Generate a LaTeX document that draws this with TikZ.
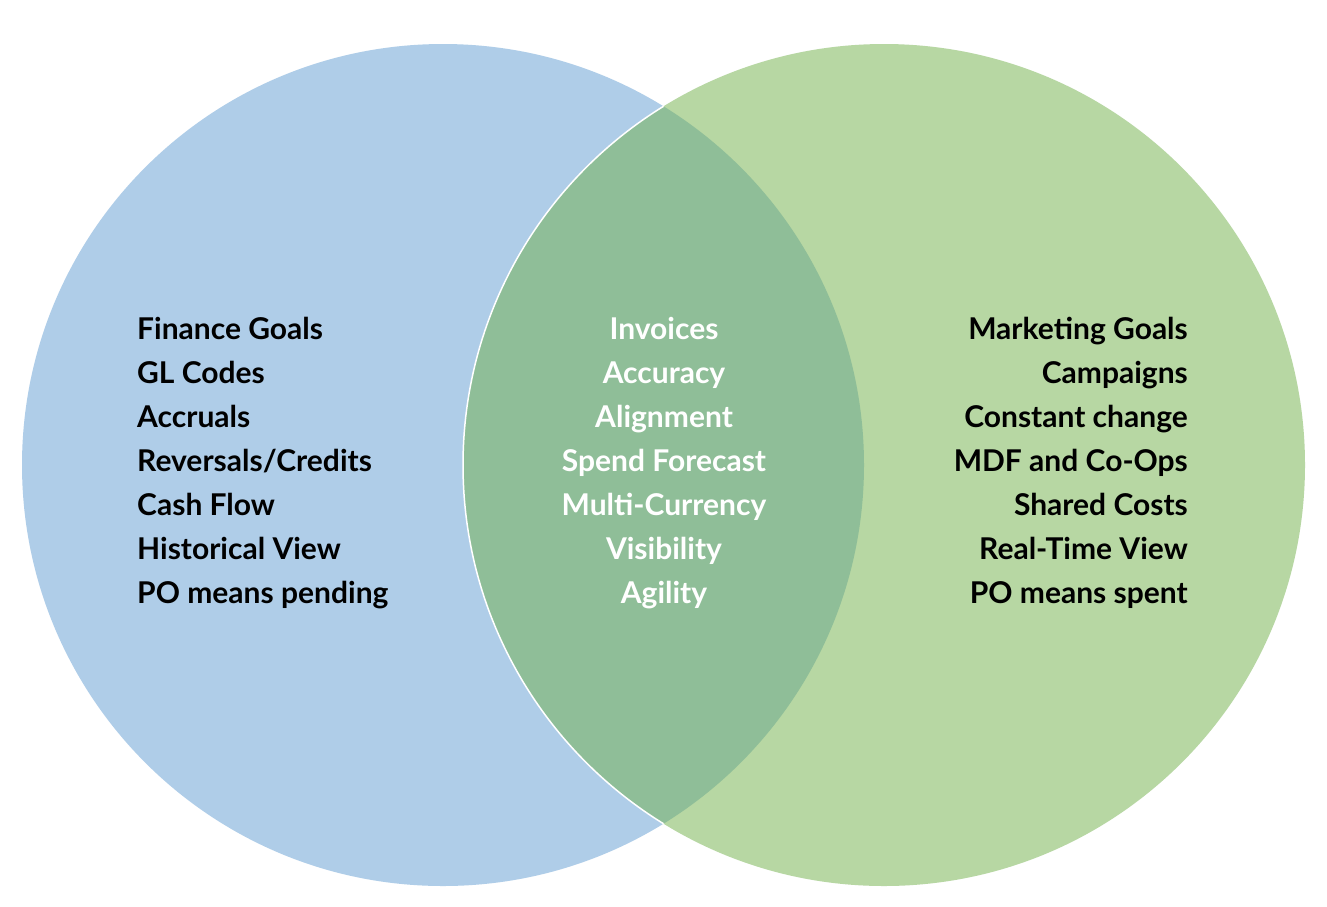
\documentclass[tikz,border=0pt]{standalone}
\usepackage{fontspec}
\setmainfont{Lato}
\definecolor{lblue}{HTML}{AFCDE8}
\definecolor{lgreen}{HTML}{B7D7A3}
\definecolor{mid}{HTML}{8FBE98}
\begin{document}
\begin{tikzpicture}[x=1pt,y=-1pt,
  txt/.style={font=\bfseries\fontsize{30}{44}\selectfont, inner sep=0pt, align=#1},
  txt/.default=left]
\useasboundingbox (0,0) rectangle (1327,906);
\fill[white] (0,0) rectangle (1327,906);
\coordinate (L) at (443,465);
\coordinate (R) at (884,465);
\fill[lblue] (L) circle (421);
\fill[lgreen] (R) circle (421);
\begin{scope}
\clip (L) circle (421);
\fill[mid] (R) circle (421);
\draw[white,line width=1.5pt] (R) circle (421);
\end{scope}
\node[txt=left, anchor=west] (lt) at (137,463) {Finance Goals\\GL Codes\\Accruals\\Reversals/Credits\\Cash Flow\\Historical View\\PO means pending};
\node[txt=center, text=white] (ct) at (664,463) {Invoices\\Accuracy\\Alignment\\Spend Forecast\\Multi-Currency\\Visibility\\Agility};
\node[txt=right, anchor=east] (rt) at (1188,463) {Marketing Goals\\Campaigns\\Constant change\\MDF and Co-Ops\\Shared Costs\\Real-Time View\\PO means spent};
\end{tikzpicture}
\end{document}
